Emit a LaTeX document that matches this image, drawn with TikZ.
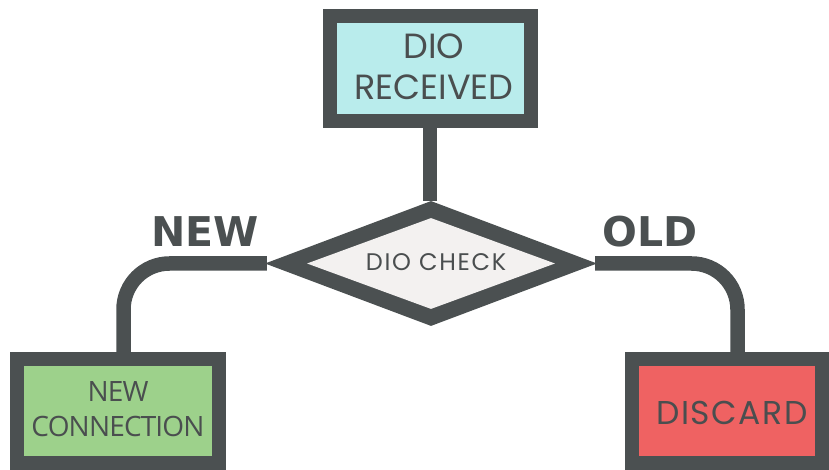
\documentclass[tikz,border=0pt]{standalone}
\usepackage{fontspec}
\setmainfont{Poppins}
\newfontfamily\narrowfont{Open Sans}
\newfontfamily\labelfont{DejaVu Sans}
\usetikzlibrary{shapes.geometric}
\definecolor{frame}{HTML}{4B5051}
\definecolor{ink}{HTML}{4A4E4F}
\definecolor{cyanfill}{HTML}{B9ECEC}
\definecolor{checkfill}{HTML}{F3F1F0}
\definecolor{newfill}{HTML}{9DD18B}
\definecolor{oldfill}{HTML}{EF6262}
\tikzset{
  box/.style={rectangle, draw=frame, line width=14pt, inner sep=0pt},
  boxtext/.style={text=ink, inner sep=0pt, align=center},
  check/.style={diamond, inner sep=0pt},
  link/.style={draw=frame, line width=14.5pt},
  branch/.style={font=\labelfont\bfseries\fontsize{41}{41}\selectfont, text=frame, inner sep=0pt}
}
\begin{document}
\begin{tikzpicture}[x=1pt,y=1pt]
  \useasboundingbox (0,0) rectangle (829,470);
  % boxes
  \node[box, fill=cyanfill, minimum width=201pt, minimum height=105pt] (rx) at (430,401.5) {};
  \node[boxtext, font=\fontsize{35}{41}\selectfont] (rxlbl) at (434,403.5) {DIO\\RECEIVED};
  % decision diamond: dark frame with a light inner face
  \node[check, fill=frame, minimum width=332pt, minimum height=125pt] (chk) at (431,206.5) {};
  \node[check, fill=checkfill, minimum width=248pt, minimum height=91pt] (chkin) at (chk) {};
  \node[boxtext, font=\addfontfeature{LetterSpace=7}\fontsize{24}{24}\selectfont] (chklbl) at (436,207.5) {DIO CHECK};
  \node[box, fill=newfill, minimum width=202pt, minimum height=104.5pt] (nc) at (118,58.75) {};
  \node[boxtext, font=\narrowfont\addfontfeature{LetterSpace=-3}\fontsize{28}{35}\selectfont] (nclbl) at (118,61) {NEW\\CONNECTION};
  \node[box, fill=oldfill, minimum width=190pt, minimum height=104pt] (dc) at (727,58.75) {};
  \node[boxtext, font=\addfontfeature{LetterSpace=5}\fontsize{33}{33}\selectfont] (dclbl) at (732,57) {DISCARD};
  % connectors
  \draw[link] (rx.south) -- (rx.south |- chk.north);
  \draw[link, rounded corners=46pt] ([xshift=2pt]chk.west) -| ([xshift=5.5pt]nc.north);
  \draw[link, rounded corners=46pt] ([xshift=-2pt]chk.east) -| ([xshift=10.5pt]dc.north);
  % branch labels
  \node[branch, anchor=base] (lnew) at (205,223) {NEW};
  \node[branch, anchor=base] (lold) at (650,223) {OLD};
\end{tikzpicture}
\end{document}
